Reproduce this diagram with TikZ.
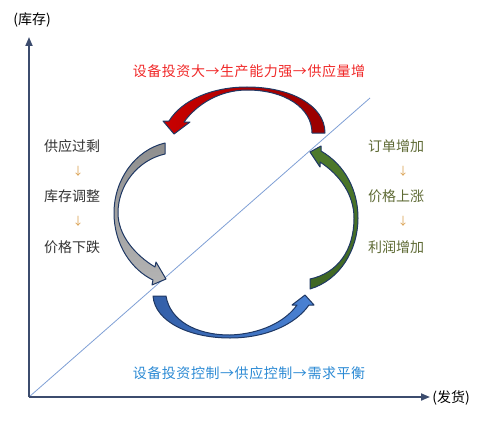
\documentclass[tikz,border=0pt]{standalone}
\usepackage{fontspec}
\setmainfont{Noto Sans CJK SC}
\usetikzlibrary{arrows.meta}
\definecolor{axiscol}{HTML}{3C4C6E}
\definecolor{diagcol}{HTML}{7F9FD5}
\definecolor{edgecol}{HTML}{1F3864}
\definecolor{redA}{HTML}{C80000}
\definecolor{redB}{HTML}{990000}
\definecolor{grayA}{HTML}{8E8E8E}
\definecolor{grayB}{HTML}{B4B4B4}
\definecolor{blueA}{HTML}{335FA8}
\definecolor{blueB}{HTML}{4A82D4}
\definecolor{greenA}{HTML}{4E7A2C}
\definecolor{greenB}{HTML}{3F6623}
\definecolor{redtext}{HTML}{F02828}
\definecolor{bluetext}{HTML}{2C8AD4}
\definecolor{darktext}{HTML}{333333}
\definecolor{olivetext}{HTML}{5E6A34}
\definecolor{downcol}{HTML}{D9A050}
\begin{document}
\begin{tikzpicture}[x=1pt,y=-1pt,
  axis/.style={draw=axiscol,line width=1.8pt,-{Triangle[length=9pt,width=7pt]}},
  diag/.style={draw=diagcol,line width=0.8pt},
  band/.style={draw=edgecol,line width=1pt,line join=round},
  lbl/.style={inner sep=0pt,font=\fontsize{14}{15}\selectfont},
  longlbl/.style={inner sep=0pt,font=\fontsize{14}{15}\selectfont\addfontfeatures{LetterSpace=4}},
  dn/.style={inner sep=0pt,text=downcol,font=\fontsize{11}{12}\selectfont}]
\useasboundingbox (0,0) rectangle (500,425);
\coordinate (O) at (29,397);
\coordinate (Y) at (29,37);
\coordinate (X) at (430,397);
\coordinate (D) at (370,98);
\draw[diag] (O) -- (D);
\draw[axis] (O) -- (Y);
\draw[axis] (O) -- (X);
\node[lbl,text=black] (ylab) at (32,20) {(库存)};
\node[lbl,text=black] (xlab) at (451,398) {(发货)};
% red arrow (top)
\path[band,left color=redA,right color=redB]
  (325,133) .. controls (325,105) and (290,87) .. (247,87)
  .. controls (212,87) and (182,100) .. (169,121)
  -- (163,121) -- (174,134) -- (190,122) -- (184,122)
  .. controls (197,104) and (220,90) .. (247,90)
  .. controls (285,90) and (312,108) .. (312,133) -- cycle;
% gray arrow (left)
\path[band,top color=grayA,bottom color=grayB]
  (165,143) .. controls (135,150) and (114,180) .. (114,213)
  .. controls (114,245) and (132,270) .. (153,280)
  -- (152,285) -- (166,279) -- (156,262) -- (155,267)
  .. controls (135,255) and (118,235) .. (118,213)
  .. controls (118,185) and (138,160) .. (165,154) -- cycle;
% blue arrow (bottom)
\path[band,left color=blueA,right color=blueB]
  (153,296) .. controls (155,322) and (190,338) .. (230,338)
  .. controls (265,338) and (295,325) .. (309,305)
  -- (314,305) -- (305,295) -- (292,305) -- (297,305)
  .. controls (285,322) and (260,334) .. (230,335)
  .. controls (195,335) and (170,320) .. (166,296) -- cycle;
% green arrow (right)
\path[band,top color=greenA,bottom color=greenB]
  (310,289) .. controls (340,280) and (358,250) .. (358,218)
  .. controls (358,190) and (345,165) .. (321,151)
  -- (321,146) -- (310,152) -- (320,167) -- (320,162)
  .. controls (340,175) and (354,195) .. (354,218)
  .. controls (354,250) and (338,273) .. (310,279) -- cycle;
% texts
\node[longlbl,text=redtext] (toptxt) at (249,71) {设备投资大→生产能力强→供应量增};
\node[longlbl,text=bluetext] (bottxt) at (249,373) {设备投资控制→供应控制→需求平衡};
\node[lbl,text=darktext] (l1) at (72,146) {供应过剩};
\node[dn] (ld1) at (78,171) {↓};
\node[lbl,text=darktext] (l2) at (72,196) {库存调整};
\node[dn] (ld2) at (78,221) {↓};
\node[lbl,text=darktext] (l3) at (72,247) {价格下跌};
\node[lbl,text=olivetext] (r1) at (396,146) {订单增加};
\node[dn] (rd1) at (403,171) {↓};
\node[lbl,text=olivetext] (r2) at (396,196) {价格上涨};
\node[dn] (rd2) at (403,221) {↓};
\node[lbl,text=olivetext] (r3) at (396,247) {利润增加};
\end{tikzpicture}
\end{document}
